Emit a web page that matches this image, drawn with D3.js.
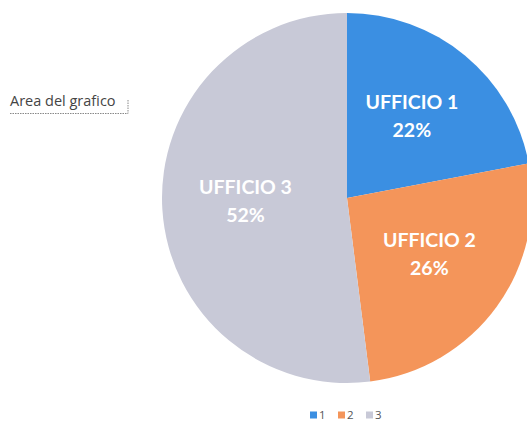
<!DOCTYPE html>
<html>
<head>
<meta charset="utf-8">
<script src="https://cdn.jsdelivr.net/npm/d3@7"></script>
<style>
  html, body { margin: 0; padding: 0; background: #fff; }
  #chart { width: 527px; height: 421px; }
  svg { display: block; }
</style>
</head>
<body>
<div id="chart"></div>
<script>
const categories = ['1', '2', '3'];
const sliceNames = ['UFFICIO 1', 'UFFICIO 2', 'UFFICIO 3'];
const shares = [22, 26, 52];
const colors = ['#3b8fe2', '#f4955a', '#c8c9d7'];

const width = 527;
const height = 421;
const cx = 347;
const cy = 198;
const radius = 185;

const svg = d3.select('#chart')
  .append('svg')
  .attr('width', width)
  .attr('height', height)
  .attr('viewBox', `0 0 ${width} ${height}`);

const data = categories.map((c, i) => ({ key: c, name: sliceNames[i], value: shares[i], color: colors[i] }));

const pie = d3.pie().sort(null).value(d => d.value);
const arc = d3.arc().innerRadius(0).outerRadius(radius);
const labelArc = d3.arc().innerRadius(radius * 0.55).outerRadius(radius * 0.55);

const g = svg.append('g').attr('transform', `translate(${cx},${cy})`);
const arcs = pie(data);

g.selectAll('.slice')
  .data(arcs)
  .join('path')
  .attr('class', 'slice')
  .attr('d', arc)
  .attr('fill', d => d.data.color);

// data labels
const labels = g.selectAll('.slice-label')
  .data(arcs)
  .join('text')
  .attr('class', 'slice-label')
  .attr('text-anchor', 'middle')
  .attr('fill', '#fff')
  .attr('font-family', 'Lato, "Open Sans", sans-serif')
  .attr('font-weight', 700)
  .attr('font-size', 19.5)
  .attr('transform', d => {
    const [x, y] = labelArc.centroid(d);
    return `translate(${x},${y})`;
  });
labels.append('tspan').attr('x', 0).attr('dy', '-0.55em').text(d => d.data.name);
labels.append('tspan').attr('x', 0).attr('dy', '1.45em').text(d => `${d.data.value}%`);

// "Area del grafico" tooltip
const tip = svg.append('g').attr('transform', 'translate(10,106)');
tip.append('text')
  .attr('font-family', '"Open Sans", sans-serif')
  .attr('font-size', 14.5)
  .attr('fill', '#444')
  .text('Area del grafico');
tip.append('path')
  .attr('d', 'M0,7.5H118V-7')
  .attr('fill', 'none')
  .attr('stroke', '#888')
  .attr('stroke-width', 1)
  .attr('stroke-dasharray', '1.5 1');

// legend
const legendX = d3.scalePoint().domain(categories).range([310, 366]);
const legend = svg.append('g').attr('transform', 'translate(0,415)');
const items = legend.selectAll('.legend-item')
  .data(data)
  .join('g')
  .attr('class', 'legend-item')
  .attr('transform', d => `translate(${legendX(d.key)},0)`);
items.append('rect')
  .attr('x', 0)
  .attr('y', -3.5)
  .attr('width', 7)
  .attr('height', 7)
  .attr('fill', d => d.color);
items.append('text')
  .attr('x', 9)
  .attr('dy', '0.35em')
  .attr('font-family', '"Open Sans", sans-serif')
  .attr('font-size', 11.5)
  .attr('fill', '#555')
  .text(d => d.key);
</script>
</body>
</html>
